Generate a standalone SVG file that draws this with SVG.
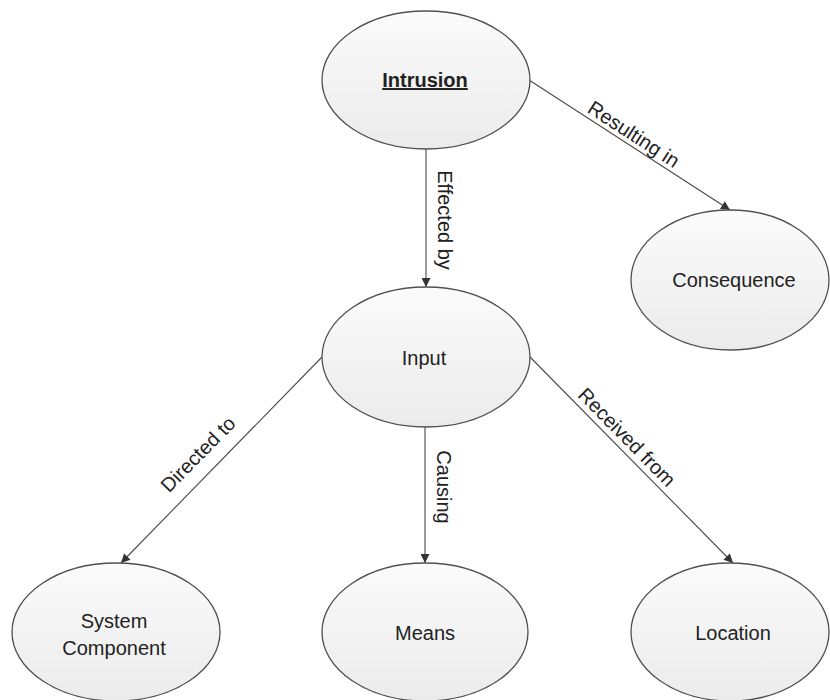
<svg xmlns="http://www.w3.org/2000/svg" width="830" height="700" viewBox="0 0 830 700">
  <style>
    .node { fill: url(#nodeFill); stroke: #505050; stroke-width: 1.3; }
    .label { font-family: "Liberation Sans", Arial, sans-serif; font-size: 20px; fill: #222; text-anchor: middle; }
    .edge { stroke: #4a4a4a; stroke-width: 1.1; fill: none; marker-end: url(#arrow); }
    .elabel { font-family: "Liberation Sans", Arial, sans-serif; font-size: 20px; fill: #222; text-anchor: middle; }
  </style>
  <defs>
    <linearGradient id="nodeFill" x1="0" y1="0" x2="0" y2="1">
      <stop offset="0" stop-color="#fbfbfb"/>
      <stop offset="1" stop-color="#ebebeb"/>
    </linearGradient>
    <marker id="arrow" viewBox="0 0 10 10" refX="10" refY="5" markerWidth="11" markerHeight="9" markerUnits="userSpaceOnUse" orient="auto">
      <path d="M0,0 L10,5 L0,10 Z" fill="#333"/>
    </marker>
  </defs>
  <rect width="830" height="700" fill="#ffffff"/>

  <g id="connectors">
    <line class="edge" x1="426" y1="149" x2="426" y2="287"/>
    <line class="edge" x1="529" y1="80" x2="730" y2="210"/>
    <line class="edge" x1="322" y1="357" x2="121" y2="563"/>
    <line class="edge" x1="425" y1="427" x2="425" y2="563"/>
    <line class="edge" x1="530" y1="357" x2="733" y2="563"/>
    <text class="elabel" transform="translate(438,220) rotate(90)">Effected by</text>
    <text class="elabel" transform="translate(630,140) rotate(33)">Resulting in</text>
    <text class="elabel" transform="translate(203,459) rotate(-45.5)">Directed to</text>
    <text class="elabel" transform="translate(437,487) rotate(90)">Causing</text>
    <text class="elabel" transform="translate(622,442) rotate(45.5)">Received from</text>
  </g>

  <g id="intrusion">
    <ellipse class="node" cx="426" cy="80" rx="104" ry="69"/>
    <text class="label" x="425" y="87" font-weight="bold" text-decoration="underline">Intrusion</text>
  </g>
  <g id="consequence">
    <ellipse class="node" cx="730" cy="280" rx="99" ry="70"/>
    <text class="label" x="734" y="287">Consequence</text>
  </g>
  <g id="input">
    <ellipse class="node" cx="426" cy="357" rx="104" ry="70"/>
    <text class="label" x="424" y="365">Input</text>
  </g>
  <g id="system-component">
    <ellipse class="node" cx="116" cy="632" rx="104" ry="69"/>
    <text class="label" x="114" y="628">System</text>
    <text class="label" x="114" y="655">Component</text>
  </g>
  <g id="means">
    <ellipse class="node" cx="425" cy="632" rx="103" ry="69"/>
    <text class="label" x="425" y="640">Means</text>
  </g>
  <g id="location">
    <ellipse class="node" cx="730" cy="632" rx="99" ry="69"/>
    <text class="label" x="733" y="640">Location</text>
  </g>
</svg>
